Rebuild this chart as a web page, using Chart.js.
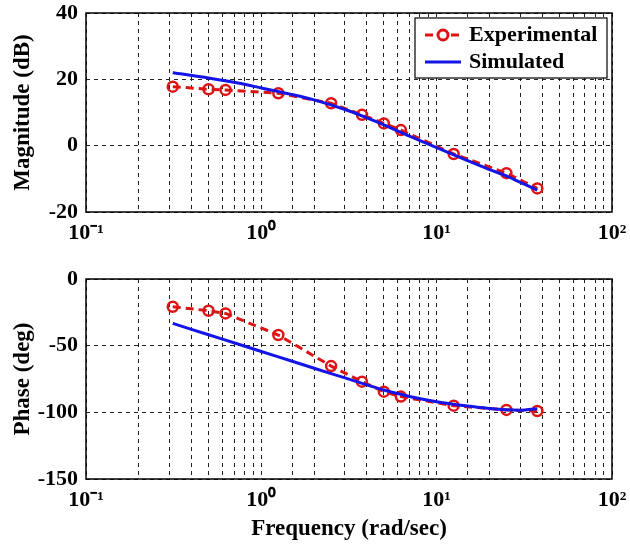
<!DOCTYPE html>
<html>
<head>
<meta charset="utf-8">
<script src="https://cdn.jsdelivr.net/npm/chart.js@4.4.1/dist/chart.umd.min.js"></script>
<style>
  body { margin: 0; background: #fff; }
  #wrap { position: relative; width: 630px; height: 549px; }
  canvas { position: absolute; left: 0; }
</style>
</head>
<body>
<div id="wrap">
  <canvas id="magChart" width="630" height="262" style="top:0"></canvas>
  <canvas id="phaseChart" width="630" height="287" style="top:262px"></canvas>
</div>
<script>
// Frequências medidas (rad/sec)
const expFreq = [0.3125, 0.5, 0.625, 1.25, 2.5, 3.75, 5, 6.25, 12.5, 25, 37.5];
const expMag = [17.8, 17.0, 16.8, 15.8, 12.8, 9.3, 6.7, 4.7, -2.5, -8.3, -12.9];
const expPhase = [-20.8, -23.8, -25.8, -42, -65.3, -77, -84.5, -88.2, -95, -98.2, -99];

// Curva simulada
const simFreq = [0.3125, 0.5, 0.75, 1, 1.5, 2, 3, 4, 5, 7, 10, 15, 20, 25, 30, 37.5];
const simMag = [22.0, 20.4, 18.8, 17.4, 15.4, 13.8, 10.9, 8.4, 6.3, 2.9, -0.6, -4.5, -7.2, -9.1, -11.1, -13.4];
const simPhase = [-33.3, -41.8, -49.1, -54.4, -61.7, -66.9, -74.2, -79.4, -83.3, -88.1, -92, -95.3, -97.1, -98.1, -98.4, -97.3];

// Rótulos
const xTickLabels = { '-1': '10⁻¹', '0': '10⁰', '1': '10¹', '2': '10²' };
const magTicks = [-20, 0, 20, 40];
const phaseTicks = [-150, -100, -50, 0];

const RED = '#dc1414';
const BLUE = '#1414e6';
const FONT = "'Liberation Serif', 'Times New Roman', serif";

function pairs(xs, ys) {
    return xs.map((x, i) => ({ x: x, y: ys[i] }));
}

// Moldura em volta da área do gráfico
const framePlugin = {
    id: 'frame',
    afterDraw(chart) {
        const a = chart.chartArea;
        const ctx = chart.ctx;
        ctx.save();
        ctx.strokeStyle = '#000';
        ctx.lineWidth = 1.5;
        ctx.setLineDash([]);
        ctx.strokeRect(a.left, a.top, a.right - a.left, a.bottom - a.top);
        ctx.restore();
    }
};

// Legenda desenhada dentro do gráfico de magnitude
const legendPlugin = {
    id: 'boxLegend',
    afterDraw(chart) {
        const ctx = chart.ctx;
        ctx.save();
        ctx.fillStyle = '#fff';
        ctx.fillRect(415, 18, 192, 60);
        ctx.strokeStyle = '#000';
        ctx.lineWidth = 1.2;
        ctx.strokeRect(415, 18, 192, 60);

        // Experimental
        ctx.strokeStyle = RED;
        ctx.lineWidth = 3;
        ctx.setLineDash([8, 5]);
        ctx.beginPath();
        ctx.moveTo(425, 35);
        ctx.lineTo(461, 35);
        ctx.stroke();
        ctx.setLineDash([]);
        ctx.fillStyle = '#fff';
        ctx.beginPath();
        ctx.arc(443, 35, 5, 0, Math.PI * 2);
        ctx.fill();
        ctx.stroke();

        // Simulated
        ctx.strokeStyle = BLUE;
        ctx.beginPath();
        ctx.moveTo(425, 62);
        ctx.lineTo(461, 62);
        ctx.stroke();

        ctx.fillStyle = '#000';
        ctx.font = 'bold 22px ' + FONT;
        ctx.textBaseline = 'middle';
        ctx.fillText('Experimental', 469, 35);
        ctx.fillText('Simulated', 469, 62);
        ctx.restore();
    }
};

function xAxis(height, showTitle) {
    return {
        type: 'logarithmic',
        min: 0.1,
        max: 100,
        afterFit: scale => {
            scale.height = height;
            scale.paddingLeft = 0;
            scale.paddingRight = 0;
        },
        grid: { color: '#222', lineWidth: 1, drawTicks: false },
        border: { display: false, dash: [4, 4] },
        ticks: {
            autoSkip: false,
            maxRotation: 0,
            padding: 8,
            color: '#000',
            font: { family: FONT, size: 22, weight: 'bold' },
            callback: value => {
                const l = Math.log10(value);
                const r = Math.round(l);
                return Math.abs(l - r) < 1e-6 ? xTickLabels[String(r)] : '';
            }
        },
        title: {
            display: showTitle,
            text: 'Frequency (rad/sec)',
            color: '#000',
            font: { family: FONT, size: 23, weight: 'bold' },
            padding: { top: 4, bottom: 6 }
        }
    };
}

function yAxis(title, ticks) {
    return {
        min: ticks[0],
        max: ticks[ticks.length - 1],
        afterFit: scale => {
            scale.width = 86;
            scale.paddingTop = 0;
            scale.paddingBottom = 0;
        },
        afterBuildTicks: scale => { scale.ticks = ticks.map(v => ({ value: v })); },
        grid: { color: '#222', lineWidth: 1, drawTicks: false },
        border: { display: false, dash: [4, 4] },
        ticks: {
            padding: 8,
            color: '#000',
            font: { family: FONT, size: 22, weight: 'bold' }
        },
        title: {
            display: true,
            text: title,
            color: '#000',
            font: { family: FONT, size: 23, weight: 'bold' },
            padding: { top: 9, bottom: 0 }
        }
    };
}

function datasets(expY, simY) {
    return [
        {
            label: 'Simulated',
            data: pairs(simFreq, simY),
            borderColor: BLUE,
            borderWidth: 3,
            pointRadius: 0,
            tension: 0.3,
            order: 0
        },
        {
            label: 'Experimental',
            data: pairs(expFreq, expY),
            borderColor: RED,
            borderWidth: 3,
            borderDash: [8, 5],
            pointRadius: 5,
            pointBorderWidth: 2.5,
            pointBorderColor: RED,
            pointBackgroundColor: 'rgba(255,255,255,0)',
            tension: 0,
            order: 1
        }
    ];
}

function makeChart(id, expY, simY, title, ticks, padding, xHeight, showXTitle, extra) {
    return new Chart(document.getElementById(id).getContext('2d'), {
        type: 'line',
        data: { datasets: datasets(expY, simY) },
        options: {
            responsive: false,
            animation: false,
            layout: { padding: padding },
            scales: {
                x: xAxis(xHeight, showXTitle),
                y: yAxis(title, ticks)
            },
            plugins: {
                legend: { display: false },
                tooltip: { enabled: false }
            }
        },
        plugins: [framePlugin].concat(extra)
    });
}

makeChart('magChart', expMag, simMag, 'Magnitude (dB)', magTicks,
    { left: 0, right: 18, top: 13, bottom: 0 }, 50, false, [legendPlugin]);
makeChart('phaseChart', expPhase, simPhase, 'Phase (deg)', phaseTicks,
    { left: 0, right: 18, top: 17, bottom: 0 }, 70, true, []);
</script>
</body>
</html>
